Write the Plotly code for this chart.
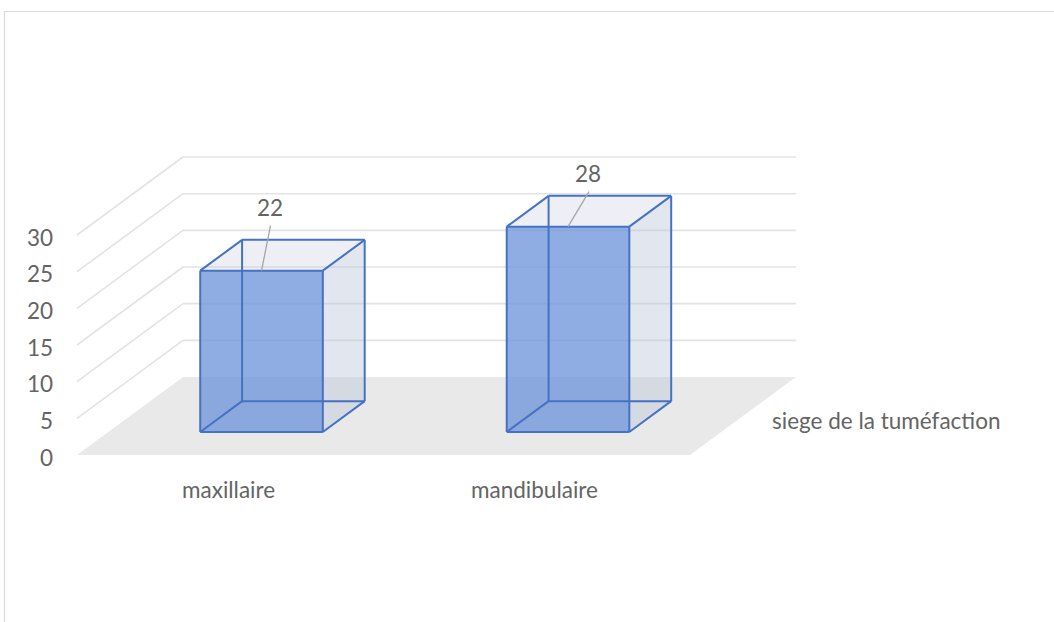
import plotly.graph_objects as go

# ---- data ----
categories = ["maxillaire", "mandibulaire"]
values = [22, 28]
series_name = "siege de la tuméfaction"
y_ticks = [0, 5, 10, 15, 20, 25, 30]
y_max = 30

# ---- geometry of the oblique 3-D view ----
PX_PER_C = 306.5          # pixels per category unit
PX_PER_V = 7.333          # pixels per value unit
DEPTH_PX = (106, -78)     # pixel shift from front to back of the floor
DX = DEPTH_PX[0] / PX_PER_C
DY = -DEPTH_PX[1] / PX_PER_V
BAR_HALF = 0.2            # half bar width in category units
BAR_D0, BAR_D1 = 0.295, 0.69   # bar depth span (fraction of floor depth)

# pixel offsets of the data labels relative to the bar top (manual placement)
label_shift = [(8, -63), (20, -53)]

FONT = "Lato"
FSIZE = 22.5
TXT = "#646464"
GRID = "#e3e3e3"
FLOOR = "#e9e9e9"
EDGE = "#4472C4"
FRONT_FILL = "rgba(112,150,218,0.78)"
SIDE_FILL = "rgba(183,192,212,0.40)"
TOP_FILL = "rgba(183,192,212,0.25)"


def proj(c, v, d):
    """Map a (category, value, depth) point onto the 2-D axes."""
    return c + d * DX, v + d * DY


def poly(points):
    xs, ys = zip(*[proj(*p) for p in points])
    return list(xs) + [xs[0]], list(ys) + [ys[0]]


def add_poly(fig, points, fill, line_color=None, width=0):
    xs, ys = poly(points)
    fig.add_trace(go.Scatter(
        x=xs, y=ys, mode="lines", fill="toself", fillcolor=fill,
        line=dict(color=line_color or "rgba(0,0,0,0)", width=width),
        hoverinfo="skip", showlegend=False))


def add_segments(fig, segs, color, width):
    xs, ys = [], []
    for a, b in segs:
        x0, y0 = proj(*a)
        x1, y1 = proj(*b)
        xs += [x0, x1, None]
        ys += [y0, y1, None]
    fig.add_trace(go.Scatter(
        x=xs, y=ys, mode="lines", line=dict(color=color, width=width),
        hoverinfo="skip", showlegend=False))


fig = go.Figure()
n = len(categories)

# floor
add_poly(fig, [(0, 0, 0), (n, 0, 0), (n, 0, 1), (0, 0, 1)], FLOOR)

# gridlines on the side wall and back wall
grid = []
for t in y_ticks[1:]:
    grid.append(((0, t, 0), (0, t, 1)))
    grid.append(((0, t, 1), (n, t, 1)))
add_segments(fig, grid, GRID, 1.6)

# bars
annotations = []
for i, (cat, val) in enumerate(zip(categories, values)):
    c0, c1 = i + 0.5 - BAR_HALF, i + 0.5 + BAR_HALF
    d0, d1 = BAR_D0, BAR_D1
    # right face and top face
    add_poly(fig, [(c1, 0, d0), (c1, 0, d1), (c1, val, d1), (c1, val, d0)], SIDE_FILL)
    add_poly(fig, [(c0, val, d0), (c1, val, d0), (c1, val, d1), (c0, val, d1)], TOP_FILL)
    # front face
    add_poly(fig, [(c0, 0, d0), (c1, 0, d0), (c1, val, d0), (c0, val, d0)], FRONT_FILL)
    # all twelve box edges
    corners = [(cc, vv, dd) for cc in (c0, c1) for vv in (0, val) for dd in (d0, d1)]
    edges = []
    for a in corners:
        for b in corners:
            diff = sum(1 for k in range(3) if a[k] != b[k])
            if diff == 1 and a < b:
                edges.append((a, b))
    add_segments(fig, edges, EDGE, 2)

    # data label with leader line
    sx, sy = label_shift[i]
    bx, by = proj(i + 0.5, val, d0)
    lx = bx + sx / PX_PER_C
    ly = by - sy / PX_PER_V
    lead_x = lx + 1 / PX_PER_C
    lead_y = ly - 18 / PX_PER_V
    fig.add_trace(go.Scatter(
        x=[bx, lead_x], y=[by, lead_y], mode="lines",
        line=dict(color="#a6a6a6", width=1.3),
        hoverinfo="skip", showlegend=False))
    annotations.append(dict(x=lx, y=ly, text=str(val), showarrow=False,
                            font=dict(family=FONT, size=FSIZE, color=TXT),
                            xanchor="center", yanchor="middle"))
    # category label
    annotations.append(dict(x=i + 0.5, y=0, text=cat, showarrow=False,
                            font=dict(family=FONT, size=FSIZE, color=TXT),
                            xanchor="center", yanchor="middle",
                            xshift=-2, yshift=-34))

# value axis labels
for t in y_ticks:
    annotations.append(dict(x=0, y=t, text=str(t), showarrow=False,
                            font=dict(family=FONT, size=FSIZE, color=TXT),
                            xanchor="right", yanchor="middle",
                            xshift=-22, yshift=-2))

# series (depth) axis label
sx0, sy0 = proj(n, 0, 0.5)
annotations.append(dict(x=sx0, y=sy0, text=series_name, showarrow=False,
                        font=dict(family=FONT, size=FSIZE, color=TXT),
                        xanchor="left", yanchor="middle", xshift=27, yshift=-4))

W, H = 1054, 622
x_left = -77 / PX_PER_C
x_right = (W - 77) / PX_PER_C
y_bottom = -(H - 455) / PX_PER_V
y_top = 455 / PX_PER_V

fig.update_layout(
    width=W, height=H,
    margin=dict(l=0, r=0, t=0, b=0),
    paper_bgcolor="white", plot_bgcolor="white",
    showlegend=False,
    xaxis=dict(visible=False, range=[x_left, x_right], fixedrange=True),
    yaxis=dict(visible=False, range=[y_bottom, y_top], fixedrange=True),
    annotations=annotations,
    shapes=[dict(type="rect", xref="paper", yref="paper",
                 x0=4.5 / W, x1=1.02, y0=-0.02, y1=1 - 11.5 / H,
                 line=dict(color="#d9d9d9", width=1.2), layer="below")],
)

fig.write_html("out.html")
